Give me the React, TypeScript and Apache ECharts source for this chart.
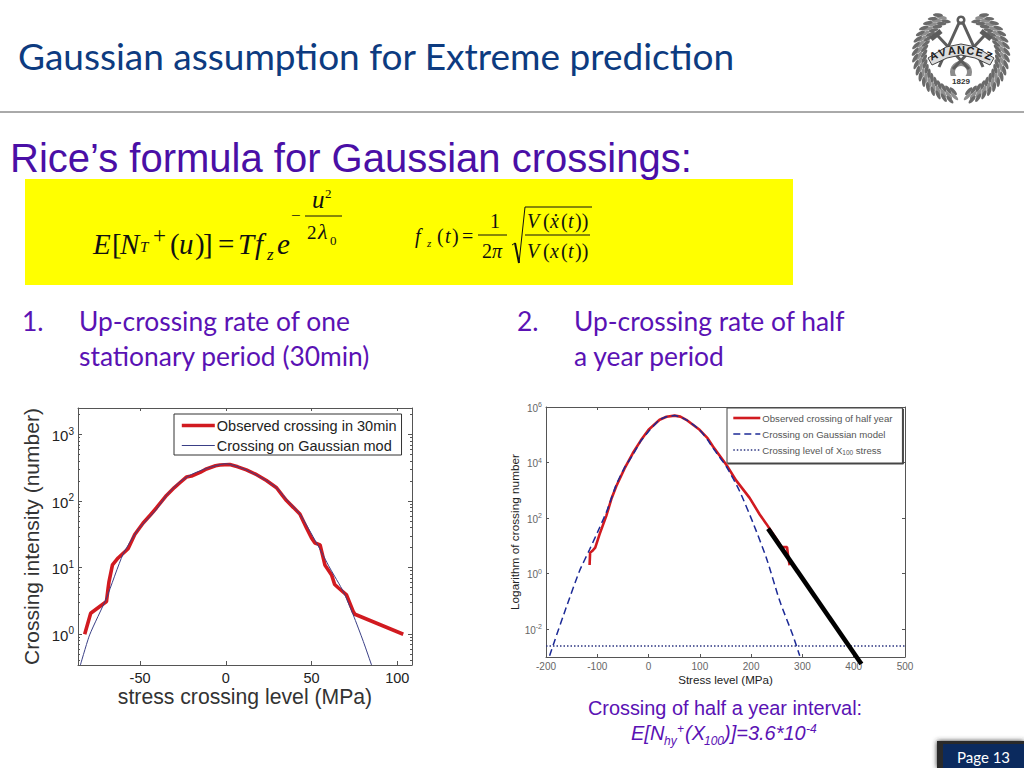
import React, { useEffect, useRef } from "react";
import * as echarts from "echarts";

const RED = "#d11a20";
const PURPLE = "#5a12b4";
const ARIAL = "'Liberation Sans', Arial, sans-serif";
const SERIF = "'Liberation Serif', 'Times New Roman', serif";
const BODY = "Lato, 'Open Sans', sans-serif";

// Left chart
const leftObserved: [number, number][] = [
  [-82.3, 1.0], [-78.8, 2.07], [-69.6, 3.1], [-68.6, 5], [-68.1, 6.2], [-66.1, 11], [-62.8, 14], [-57, 19.3],
  [-53.1, 31.5], [-48.2, 47], [-44, 62], [-40.5, 79], [-34.6, 122], [-30, 160], [-26.8, 189], [-23, 230],
  [-20, 238], [-15, 270], [-11.3, 305], [-6, 340], [-3.5, 350], [2.3, 355], [7, 328], [12, 295], [18, 250],
  [23.7, 204], [29.6, 159], [33, 122], [35.4, 102], [39.5, 80], [43.2, 64], [47, 40], [50, 28], [52, 23.5],
  [55, 22], [57.8, 11], [61.7, 7.8], [63.5, 5.6], [65.6, 5], [70.4, 3.9], [74.3, 2.2], [75.3, 2], [103.5, 1.0],
];
const leftGaussian: [number, number][] = [
  [-84.8, 0.345], [-79.4, 0.98], [-69.6, 3.5], [-60, 15.8], [-51.2, 37], [-40.5, 75], [-34.6, 122], [-26.8, 195],
  [-20, 252], [-11.3, 310], [0, 365], [12, 295], [23.7, 204], [29.6, 159], [35.4, 106], [43.2, 64], [52.9, 23.6],
  [60.7, 9.9], [68.5, 4.4], [74.3, 1.96], [80.2, 0.78], [85, 0.345],
];
const leftXTicks = [-50, 0, 50, 100];
const leftYTicks = [1, 10, 100, 1000];
const leftYMinor = [
  0.4, 0.5, 0.6, 0.7, 0.8, 0.9, 2, 3, 4, 5, 6, 7, 8, 9, 20, 30, 40, 50, 60, 70, 80, 90,
  200, 300, 400, 500, 600, 700, 800, 900, 2000,
];

// Right chart
const rightObserved: [number, number][] = [
  [-115, 2.05], [-114, 5.7], [-110, 6.5], [-104, 8.6], [-95.6, 25.9], [-82.6, 118], [-72, 520], [-63, 1400], [-47, 6000],
  [-30.6, 22000], [-15, 63000], [0, 151000], [21.5, 346000], [35, 445000], [50.7, 490000], [62, 450000], [73.5, 346000],
  [99.5, 151000], [115, 76000], [125.6, 38000], [151.6, 8300], [171, 2240], [197, 537], [216.7, 135], [229.7, 62],
  [252, 15], [259, 9], [270, 9], [272.6, 3.7], [275, 2],
];
const rightGaussian: [number, number][] = [
  [-193, 0.0011], [-185.4, 0.0029], [-160.7, 0.06], [-134.7, 1.25], [-115, 7.4], [-95.6, 45], [-80, 210],
  [-63, 1600], [-47, 6500], [-30.6, 19000], [-15, 60000], [0, 132000], [21.5, 346000], [35, 445000], [50.7, 490000],
  [73.5, 346000], [99.5, 151000], [115, 66000], [125.6, 33000], [151.6, 7200], [177.6, 930], [203.6, 68], [229.7, 3.7],
  [255.7, 0.105], [281.7, 0.0058], [294.7, 0.0011],
];
const rightLevel: [number, number][] = [[-200, 0.0025], [500, 0.0025]];
const extrapolation: [number, number][] = [[233, 42], [415, 0.00056]];
const rightXTicks = [-200, -100, 0, 100, 200, 300, 400, 500];
const rightYTicks = [0.01, 1, 100, 10000, 1000000];

const powerLabel = (v: number) => {
  const e = Math.round(Math.log10(v));
  return `{b|10}{s|${e}}`;
};

function leaves(cx: number, cy: number) {
  const out: any[] = [];
  const rows = [37, 42, 46];
  rows.forEach((rr, i) => {
    for (let a = 24 + i * 3; a <= 172; a += 8) {
      [a, -a].forEach((deg) => {
        const th = (deg * Math.PI) / 180;
        out.push({
          type: "ellipse",
          x: cx + rr * Math.sin(th),
          y: cy - rr * Math.cos(th),
          rotation: -th + (deg > 0 ? 0.6 : -0.6),
          shape: { cx: 0, cy: 0, rx: 5, ry: 1.8 },
          style: { fill: i === 1 ? "#8f8f8f" : "#6a6a6a" },
          silent: true,
        });
      });
    }
  });
  return out;
}

function seal() {
  const cx = 961, cy = 55;
  const grey = "#5c5c5c";
  const band = "AVANCEZ".split("").map((ch, i) => {
    const th = ((i - 3) * 7.5 * Math.PI) / 180;
    return {
      type: "text",
      x: cx + 72 * Math.sin(th),
      y: cy + 70 - 72 * Math.cos(th) - 3,
      rotation: -th,
      style: { text: ch, font: `bold 11px ${ARIAL}`, fill: "#222", align: "center", verticalAlign: "middle" },
      silent: true,
    };
  });
  const stroke = (points: number[][], lineWidth: number) => ({
    type: "polyline", silent: true, shape: { points }, style: { stroke: grey, lineWidth, fill: "none" },
  });
  return [
    ...leaves(cx, cy),
    { type: "ring", shape: { cx, cy: cy + 17, r: 11, r0: 6 }, style: { fill: "#8c8c8c" }, silent: true },
    stroke([[cx - 22, cy + 12], [cx - 2, cy - 32], [cx + 2, cy - 32], [cx + 22, cy + 12]], 3),
    stroke([[cx - 24, cy - 20], [cx + 8, cy + 14]], 3),
    stroke([[cx + 24, cy - 20], [cx - 8, cy + 14]], 3),
    stroke([[cx - 30, cy - 16], [cx - 20, cy - 24]], 5),
    stroke([[cx + 30, cy - 16], [cx + 20, cy - 24]], 5),
    { type: "ring", shape: { cx, cy: cy - 35, r: 4.5, r0: 2 }, style: { fill: grey }, silent: true },
    { type: "polygon", shape: { points: [[cx - 33, cy + 3], [cx - 15, cy - 8], [cx, cy - 11], [cx + 15, cy - 8], [cx + 33, cy + 3], [cx + 29, cy + 10], [cx + 14, cy + 3], [cx, cy], [cx - 14, cy + 3], [cx - 29, cy + 10]] }, style: { fill: "#dcdcdc", stroke: "#444", lineWidth: 1 }, silent: true },
    ...band,
    { type: "rect", shape: { x: cx - 11, y: cy + 21, width: 22, height: 10 }, style: { fill: "#fff" }, silent: true },
    { type: "text", x: cx, y: cy + 26, style: { text: "1829", font: `bold 8px ${ARIAL}`, fill: "#333", align: "center", verticalAlign: "middle" }, silent: true },
  ];
}

// y is the text's baseline
const t = (x: number, y: number, text: string, font: string, fill: string, extra: any = {}) => {
  const size = parseFloat((font.match(/([\d.]+)px/) || ["", "16"])[1]);
  return {
    type: "text",
    x,
    y: y - size * 0.34,
    silent: true,
    style: { text, font, fill, verticalAlign: "middle", ...extra },
  };
};
const ln = (x1: number, y1: number, x2: number, y2: number, lineWidth = 1) => ({
  type: "line",
  silent: true,
  shape: { x1, y1, x2, y2 },
  style: { stroke: "#111", lineWidth },
});

function formula() {
  const it = (s: number) => `italic ${s}px ${SERIF}`;
  const ro = (s: number) => `${s}px ${SERIF}`;
  const k = "#111";
  return [
    t(93, 254, "E", it(29), k), t(112, 254, "[", ro(29), k), t(120, 254, "N", it(29), k),
    t(140, 252, "T", it(15), k), t(153, 243, "+", ro(23), k), t(170, 254, "(", ro(29), k),
    t(179, 254, "u", it(29), k), t(195, 254, ")", ro(29), k), t(203, 254, "]", ro(29), k), t(218, 254, "=", ro(29), k),
    t(238, 254, "T", it(29), k), t(255, 254, "f", it(29), k), t(267, 260, "z", it(17), k), t(277, 254, "e", it(29), k),
    t(291, 221, "\u2212", ro(17), k), ln(305, 216, 342, 216), t(312, 208, "u", it(25), k),
    t(325, 198, "2", ro(13), k), t(307, 239, "2", ro(19), k), t(318, 239, "\u03bb", it(22), k),
    t(330, 245, "0", ro(13), k),
    t(415, 243, "f", it(20), k), t(427, 247, "z", it(11), k), t(437, 243, "(", ro(20), k), t(445, 243, "t", it(20), k),
    t(452, 243, ")", ro(20), k), t(462, 243, "=", ro(20), k), t(490, 228, "1", ro(20), k), ln(478, 235, 507, 235),
    t(482, 258, "2", ro(20), k), t(492, 258, "\u03c0", it(20), k),
    { type: "polyline", silent: true, shape: { points: [[512, 245], [515, 243]] }, style: { stroke: k, lineWidth: 1, fill: "none" } },
    { type: "polyline", silent: true, shape: { points: [[515, 243], [519, 263]] }, style: { stroke: k, lineWidth: 2, fill: "none" } },
    { type: "polyline", silent: true, shape: { points: [[519, 263], [525, 207], [592, 207]] }, style: { stroke: k, lineWidth: 1, fill: "none" } },
    t(527, 228, "V", it(20), k), t(543, 228, "(", ro(20), k), t(550, 228, "\u1e8b", it(20), k),
    t(561, 228, "(", ro(20), k), t(568, 228, "t", it(20), k), t(575, 228, "))", ro(20), k),
    ln(525, 235, 590, 235),
    t(527, 258, "V", it(20), k), t(543, 258, "(", ro(20), k), t(550, 258, "x", it(20), k),
    t(561, 258, "(", ro(20), k), t(568, 258, "t", it(20), k), t(575, 258, "))", ro(20), k),
  ];
}

export default function App() {
  const ref = useRef<HTMLDivElement>(null);
  useEffect(() => {
    const chart = echarts.init(ref.current!, undefined, { renderer: "svg" });
    const axisLine = { show: true, onZero: false, lineStyle: { color: "#555", width: 1 } };
    const noLabel = { show: false };
    const hiddenMark = { opacity: 0, color: "transparent", borderWidth: 0 };
    const mirrorX = (gridIndex: number, min: number, max: number, ticks: number[]) => ({
      type: "value", gridIndex, position: "top", min, max, splitLine: { show: false }, axisLine,
      axisLabel: noLabel, axisTick: { inside: true, length: 3, lineStyle: { color: "#555" }, customValues: ticks },
    });
    const yAxis = (gridIndex: number, position: string, min: number, max: number, ticks: number[], extra: any = {}, tickLen = 4) => ({
      type: "log", logBase: 10, gridIndex, position, min, max, splitLine: { show: false }, axisLine,
      axisLabel: noLabel,
      axisTick: { inside: true, length: tickLen, lineStyle: { color: "#555" }, customValues: ticks },
      ...extra,
    });
    const lMin = 0.345, lMax = 2512, rMin = 0.001, rMax = 1000000;
    chart.setOption({
      animation: false,
      backgroundColor: "#ffffff",
      grid: [
        { left: 78, top: 408, width: 334, height: 257, containLabel: false },
        { left: 546, top: 407, width: 359, height: 250, containLabel: false },
      ],
      xAxis: [
        {
          type: "value", gridIndex: 0, position: "bottom", min: -86.2, max: 108.6, splitLine: { show: false }, axisLine,
          axisTick: { inside: true, length: 4, lineStyle: { color: "#555" }, customValues: leftXTicks },
          axisLabel: { customValues: leftXTicks, color: "#222", fontFamily: ARIAL, fontSize: 14.5, margin: 5 },
          name: "stress crossing level (MPa)", nameLocation: "middle", nameGap: 21,
          nameTextStyle: { fontFamily: ARIAL, fontSize: 21.2, color: "#333" },
        },
        mirrorX(0, -86.2, 108.6, leftXTicks),
        {
          type: "value", gridIndex: 1, position: "bottom", min: -200, max: 500, splitLine: { show: false }, axisLine,
          axisTick: { inside: true, length: 3, lineStyle: { color: "#555" }, customValues: rightXTicks },
          axisLabel: { customValues: rightXTicks, color: "#666", fontFamily: ARIAL, fontSize: 10, margin: 4 },
          name: "Stress level (MPa)", nameLocation: "middle", nameGap: 16,
          nameTextStyle: { fontFamily: ARIAL, fontSize: 11.6, color: "#222" },
        },
        mirrorX(1, -200, 500, rightXTicks),
      ],
      yAxis: [
        yAxis(0, "left", lMin, lMax, leftYTicks, {
          axisLabel: {
            customValues: leftYTicks, formatter: powerLabel, margin: 4, color: "#222",
            rich: {
              b: { fontFamily: ARIAL, fontSize: 15, color: "#222", verticalAlign: "bottom" },
              s: { fontFamily: ARIAL, fontSize: 10, color: "#222", verticalAlign: "top", padding: [0, 0, 7, 0] },
            },
          },
          name: "Crossing intensity (number)", nameLocation: "middle", nameGap: 36, nameRotate: 90,
          nameTextStyle: { fontFamily: ARIAL, fontSize: 21, color: "#333" },
        }),
        yAxis(0, "right", lMin, lMax, leftYTicks),
        yAxis(0, "left", lMin, lMax, leftYMinor, { axisLine: { show: false, onZero: false } }, 2),
        yAxis(0, "right", lMin, lMax, leftYMinor, { axisLine: { show: false, onZero: false } }, 2),
        yAxis(1, "left", rMin, rMax, rightYTicks, {
          axisLabel: {
            customValues: rightYTicks, formatter: powerLabel, margin: 4, color: "#666",
            rich: {
              b: { fontFamily: ARIAL, fontSize: 10, color: "#666", verticalAlign: "bottom" },
              s: { fontFamily: ARIAL, fontSize: 7, color: "#666", verticalAlign: "top", padding: [0, 0, 5, 0] },
            },
          },
          name: "Logarithm of crossing number", nameLocation: "middle", nameGap: 25, nameRotate: 90,
          nameTextStyle: { fontFamily: ARIAL, fontSize: 11.8, color: "#222" },
        }, 3),
        yAxis(1, "right", rMin, rMax, rightYTicks, {}, 3),
      ],
      legend: [
        {
          data: [
            { name: "Observed crossing in 30min", itemStyle: hiddenMark, lineStyle: { width: 3.6, color: RED } },
            { name: "Crossing on Gaussian mod", itemStyle: hiddenMark, lineStyle: { width: 1, color: "#3a3f86" } },
          ],
          left: 174, top: 414, orient: "vertical", itemWidth: 33, itemHeight: 10, itemGap: 5,
          padding: [4, 5, 2, 6], backgroundColor: "#fff", borderColor: "#333", borderWidth: 1,
          textStyle: { fontFamily: ARIAL, fontSize: 14.5, color: "#222", padding: [0, 0, 0, -3] },
        },
        {
          data: [
            { name: "Observed crossing of half year", itemStyle: hiddenMark, lineStyle: { width: 2.6, color: RED } },
            { name: "Crossing on Gaussian model", itemStyle: hiddenMark, lineStyle: { width: 1.5, color: "#1c2a96", type: [7, 4] } },
            { name: "Crossing level of X100 stress", itemStyle: hiddenMark, lineStyle: { width: 1.5, color: "#2c3580", type: [1.5, 2] } },
          ],
          left: 727, top: 408, orient: "vertical", itemWidth: 27, itemHeight: 8, itemGap: 6,
          padding: [5, 10, 7, 5], backgroundColor: "#fff", borderColor: "#444", borderWidth: 1,
          shadowColor: "#444", shadowBlur: 1, shadowOffsetX: 1, shadowOffsetY: 1,
          formatter: (n: string) => n.replace("X100", "X{sub|100}"),
          textStyle: {
            fontFamily: ARIAL, fontSize: 9.6, color: "#555", padding: [0, 0, 0, -3],
            rich: { sub: { fontFamily: ARIAL, fontSize: 6.5, color: "#555", padding: [5, 0, 0, 0] } },
          },
        },
      ],
      series: [
        {
          type: "line", name: "Observed crossing in 30min", xAxisIndex: 0, yAxisIndex: 0, data: leftObserved,
          showSymbol: false, symbol: "none", lineStyle: { color: RED, width: 3.6 }, itemStyle: { color: RED }, z: 3,
        },
        {
          type: "line", name: "Crossing on Gaussian mod", xAxisIndex: 0, yAxisIndex: 0, data: leftGaussian, smooth: 0.2,
          showSymbol: false, symbol: "none", lineStyle: { color: "#3a3f86", width: 1 }, itemStyle: { color: "#3a3f86" }, z: 4,
        },
        {
          type: "line", name: "Observed crossing of half year", xAxisIndex: 2, yAxisIndex: 4, data: rightObserved,
          showSymbol: false, symbol: "none", lineStyle: { color: RED, width: 2.6 }, itemStyle: { color: RED }, z: 3,
        },
        {
          type: "line", name: "Crossing on Gaussian model", xAxisIndex: 2, yAxisIndex: 4, data: rightGaussian, smooth: 0.2,
          showSymbol: false, symbol: "none", lineStyle: { color: "#1c2a96", width: 1.5, type: [7, 4] }, itemStyle: { color: "#1c2a96" }, z: 4,
        },
        {
          type: "line", name: "Crossing level of X100 stress", xAxisIndex: 2, yAxisIndex: 4, data: rightLevel,
          showSymbol: false, symbol: "none", lineStyle: { color: "#2c3580", width: 1.5, type: [1.5, 2] }, itemStyle: { color: "#2c3580" }, z: 4,
        },
        {
          type: "line", name: "Extrapolation", xAxisIndex: 2, yAxisIndex: 4, data: extrapolation, clip: false,
          showSymbol: false, symbol: "none", lineStyle: { color: "#000", width: 4.6 }, z: 6,
        },
      ],
      graphic: [
        t(18, 68, "Gaussian assumption for Extreme prediction", `37px ${BODY}`, "#0d3b80"),
        { type: "line", silent: true, shape: { x1: 0, y1: 112, x2: 1024, y2: 112 }, style: { stroke: "#555", lineWidth: 1 } },
        { type: "group", children: seal() },
        t(10, 172, "Rice\u2019s formula for Gaussian crossings:", `40px ${ARIAL}`, "#4a0fa6"),
        { type: "rect", silent: true, z: -1, shape: { x: 25, y: 179, width: 768, height: 106 }, style: { fill: "#ffff00" } },
        ...formula(),
        t(22, 330, "1.", `26.4px ${BODY}`, PURPLE),
        t(79, 330, "Up-crossing rate of one", `26.4px ${BODY}`, PURPLE),
        t(79, 365, "stationary period (30min)", `26.4px ${BODY}`, PURPLE),
        t(517, 330, "2.", `26.4px ${BODY}`, PURPLE),
        t(574, 330, "Up-crossing rate of half", `26.4px ${BODY}`, PURPLE),
        t(574, 365, "a year period", `26.4px ${BODY}`, PURPLE),
        t(725, 715, "Crossing of half a year interval:", `19.9px ${ARIAL}`, PURPLE, { align: "center" }),
        t(631, 740, "E[N", `italic 20px ${ARIAL}`, PURPLE),
        t(664, 745, "hy", `italic 12px ${ARIAL}`, PURPLE),
        t(677, 733, "+", `italic 12px ${ARIAL}`, PURPLE),
        t(685, 740, "(X", `italic 20px ${ARIAL}`, PURPLE),
        t(704, 745, "100", `italic 12px ${ARIAL}`, PURPLE),
        t(724, 740, ")]=3.6*10", `italic 20px ${ARIAL}`, PURPLE),
        t(806, 733, "-4", `italic 12px ${ARIAL}`, PURPLE),
        { type: "rect", silent: true, shape: { x: 937, y: 741, width: 87, height: 27 }, style: { fill: "#2a2a2a", shadowBlur: 5, shadowColor: "#333" } },
        { type: "rect", silent: true, shape: { x: 943, y: 744, width: 81, height: 24 }, style: { fill: "#0b2a5e" } },
        t(957, 762, "Page 13", `15px ${BODY}`, "#ffffff"),
      ],
    });
    return () => chart.dispose();
  }, []);
  return <div ref={ref} style={{ position: "absolute", left: 0, top: 0, width: 1024, height: 768 }} />;
}
